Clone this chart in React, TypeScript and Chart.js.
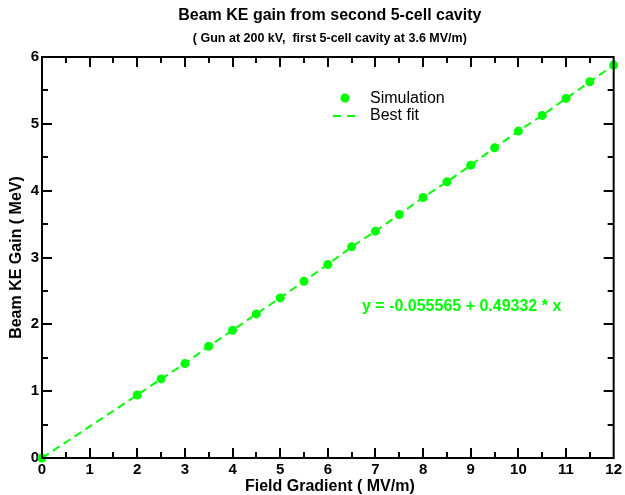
import React, { useEffect, useRef } from "react";
import { Chart, registerables } from "chart.js";

Chart.register(...registerables);

// ---- Data ----
const gradient = [0, 2, 2.5, 3, 3.5, 4, 4.5, 5, 5.5, 6, 6.5, 7, 7.5, 8, 8.5, 9, 9.5, 10, 10.5, 11, 11.5, 12];
const keGain = [0, 0.943, 1.183, 1.413, 1.672, 1.91, 2.156, 2.395, 2.645, 2.895, 3.159, 3.394, 3.644, 3.898, 4.132, 4.382, 4.641, 4.891, 5.126, 5.38, 5.629, 5.879];
const xTickLabels = ["0", "1", "2", "3", "4", "5", "6", "7", "8", "9", "10", "11", "12"];
const yTickLabels = ["0", "1", "2", "3", "4", "5", "6"];

const titleText = "Beam KE gain from second 5-cell cavity";
const subtitleText = "( Gun at 200 kV,  first 5-cell cavity at 3.6 MV/m)";
const xTitle = "Field Gradient ( MV/m)";
const yTitle = "Beam KE Gain ( MeV)";
const fitText = "y = -0.055565 + 0.49332 * x";
const legendLabels = ["Simulation", "Best fit"];

const GREEN = "#00ff00";
const FONT = "'Liberation Sans', Arial, Helvetica, sans-serif";

const decorPlugin = {
  id: "decor",
  afterDraw(chart: any) {
    const { ctx, chartArea } = chart;
    const xs = chart.scales.x;
    const ys = chart.scales.y;
    const { left, right, top, bottom } = chartArea;
    ctx.save();
    // box
    ctx.strokeStyle = "#000";
    ctx.lineWidth = 2;
    ctx.strokeRect(left, top, right - left, bottom - top);
    // inward ticks
    ctx.beginPath();
    for (let i = 1; i < (xTickLabels.length - 1) * 2; i++) {
      const v = i / 2;
      const len = i % 2 === 0 ? 10 : 6;
      const px = Math.round(xs.getPixelForValue(v));
      ctx.moveTo(px, bottom);
      ctx.lineTo(px, bottom - len);
      ctx.moveTo(px, top);
      ctx.lineTo(px, top + len);
    }
    for (let i = 1; i < (yTickLabels.length - 1) * 2; i++) {
      const v = i / 2;
      const len = i % 2 === 0 ? 10 : 6;
      const py = Math.round(ys.getPixelForValue(v));
      ctx.moveTo(left, py);
      ctx.lineTo(left + len, py);
      ctx.moveTo(right, py);
      ctx.lineTo(right - len, py);
    }
    ctx.stroke();

    const cx = (left + right) / 2 + 2;
    ctx.fillStyle = "#000";
    ctx.textAlign = "center";
    ctx.textBaseline = "middle";
    ctx.font = `bold 16px ${FONT}`;
    ctx.fillText(titleText, cx, 16);
    ctx.font = `bold 12.5px ${FONT}`;
    ctx.fillText(subtitleText, cx, 39);
    ctx.font = `bold 16px ${FONT}`;
    ctx.fillText(xTitle, cx, 487);
    ctx.save();
    ctx.translate(17, (top + bottom) / 2);
    ctx.rotate(-Math.PI / 2);
    ctx.fillText(yTitle, 0, 0);
    ctx.restore();

    // legend
    ctx.fillStyle = GREEN;
    ctx.beginPath();
    ctx.arc(345, 98, 4.5, 0, Math.PI * 2);
    ctx.fill();
    ctx.strokeStyle = GREEN;
    ctx.lineWidth = 2;
    ctx.setLineDash([8, 6]);
    ctx.beginPath();
    ctx.moveTo(333, 116);
    ctx.lineTo(361, 116);
    ctx.stroke();
    ctx.setLineDash([]);
    ctx.fillStyle = "#000";
    ctx.textAlign = "left";
    ctx.font = `16px ${FONT}`;
    ctx.fillText(legendLabels[0], 370, 99);
    ctx.fillText(legendLabels[1], 370, 116);

    // fit annotation
    ctx.fillStyle = GREEN;
    ctx.font = `bold 16px ${FONT}`;
    ctx.fillText(fitText, 362, 307);
    ctx.restore();
  },
};

export default function App() {
  const ref = useRef<HTMLCanvasElement>(null);
  useEffect(() => {
    document.body.style.margin = "0";
    const points = gradient.map((x, i) => ({ x, y: keGain[i] }));
    const chart = new Chart(ref.current!, {
      type: "scatter",
      data: {
        datasets: [
          {
            type: "line",
            label: legendLabels[1],
            data: points,
            showLine: true,
            borderColor: GREEN,
            borderWidth: 2,
            borderDash: [8, 5],
            pointRadius: 0,
            fill: false,
            tension: 0,
            order: 2,
          } as any,
          {
            label: legendLabels[0],
            data: points,
            backgroundColor: GREEN,
            borderColor: GREEN,
            borderWidth: 0,
            pointRadius: 4.5,
            clip: false,
            order: 1,
          },
        ],
      },
      options: {
        animation: false,
        responsive: false,
        events: [],
        layout: { padding: { top: 57, right: 11, left: 0, bottom: 0 } },
        plugins: { legend: { display: false }, tooltip: { enabled: false }, title: { display: false } },
        scales: {
          x: {
            type: "linear",
            min: 0,
            max: 12,
            afterFit: (s: any) => { s.height = 37; },
            grid: { display: false, drawTicks: false },
            border: { display: false },
            ticks: {
              stepSize: 1,
              autoSkip: false,
              maxRotation: 0,
              padding: 3,
              color: "#000",
              font: { family: FONT, size: 15, weight: "bold" },
              callback: (v: any) => xTickLabels[Math.round(v)] ?? "",
            },
          },
          y: {
            type: "linear",
            min: 0,
            max: 6,
            afterFit: (s: any) => { s.width = 42; },
            grid: { display: false, drawTicks: false },
            border: { display: false },
            ticks: {
              stepSize: 1,
              autoSkip: false,
              padding: 3,
              color: "#000",
              font: { family: FONT, size: 15, weight: "bold" },
              callback: (v: any) => yTickLabels[Math.round(v)] ?? "",
            },
          },
        },
      },
      plugins: [decorPlugin],
    });
    return () => chart.destroy();
  }, []);
  return <canvas ref={ref} width={625} height={495} style={{ display: "block" }} />;
}
